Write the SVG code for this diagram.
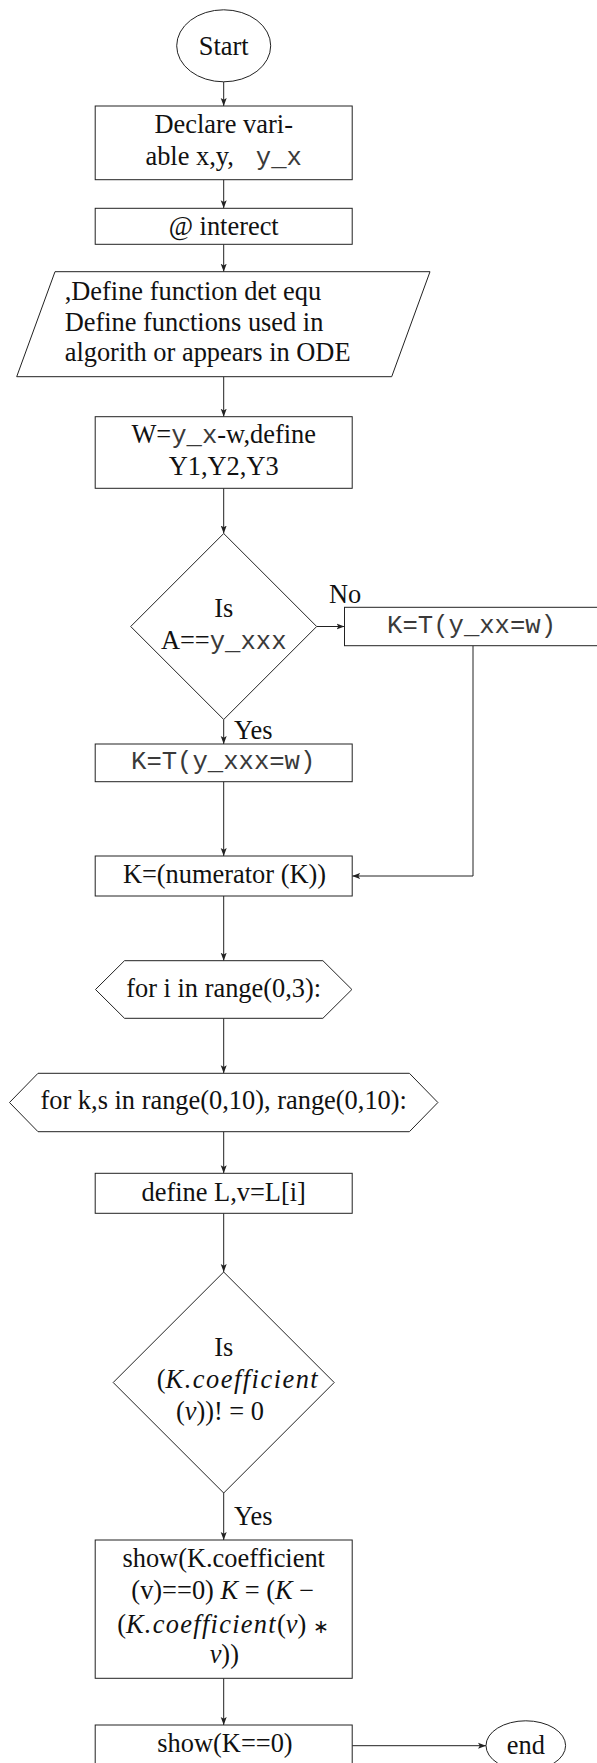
<svg xmlns="http://www.w3.org/2000/svg" width="597" height="1763" viewBox="0 0 597 1763">
<defs>
<marker id="arr" markerUnits="userSpaceOnUse" markerWidth="9" markerHeight="7" refX="8" refY="3.5" orient="auto">
<path d="M0,0.5 L8,3.5 L0,6.5 L1.8,3.5 z" fill="#222"/>
</marker>
<style>
.s{fill:#fff;stroke:#222;stroke-width:1}
.t{font-family:"Liberation Serif","Times New Roman",serif;font-size:26.4px;fill:#111}
.c{text-anchor:middle}
.m{font-family:"Liberation Mono","Courier New",monospace;font-size:25.6px;fill:#3a3a3a}
.i{font-style:italic}
.e{fill:none;stroke:#222;stroke-width:1;marker-end:url(#arr)}
</style>
</defs>
<rect width="597" height="1763" fill="#fff"/>
<g id="connectors">
<path class="e" d="M223.7,82 V106"/>
<path class="e" d="M223.7,179.7 V208.3"/>
<path class="e" d="M223.7,244.3 V271.7"/>
<path class="e" d="M223.7,376.7 V416.7"/>
<path class="e" d="M223.7,488.3 V533.5"/>
<path class="e" d="M316.7,626.5 H344.5"/>
<path class="e" d="M223.7,719.5 V744"/>
<path class="e" d="M223.7,781.7 V856"/>
<path class="e" d="M473,645.7 V876 H352.2"/>
<path class="e" d="M223.7,896 V960.7"/>
<path class="e" d="M223.7,1018.3 V1073.3"/>
<path class="e" d="M223.7,1131.7 V1173.3"/>
<path class="e" d="M223.7,1213.3 V1272"/>
<path class="e" d="M223.7,1493 V1540"/>
<path class="e" d="M223.7,1678.3 V1725"/>
<path class="e" d="M352.2,1745.7 H486"/>
<text class="t" x="329" y="603">No</text>
<text class="t" x="234" y="739.3">Yes</text>
<text class="t" x="234" y="1525">Yes</text>
</g>
<g id="start">
<ellipse class="s" cx="223.7" cy="45.8" rx="47" ry="36"/>
<text class="t c" x="223.7" y="55">Start</text>
</g>
<g id="declare">
<rect class="s" x="95.2" y="106" width="257" height="73.7"/>
<text class="t c" x="223.7" y="132.7">Declare vari-</text>
<text class="t c" x="223.7" y="165">able x,y,&#160;<tspan class="m">&#160;y_x</tspan></text>
</g>
<g id="interect">
<rect class="s" x="95.2" y="208.3" width="257" height="36"/>
<text class="t c" x="223.7" y="235">@ interect</text>
</g>
<g id="define-functions">
<polygon class="s" points="55,271.7 430,271.7 391.7,376.7 16.7,376.7"/>
<text class="t" x="64.7" y="299.5">,Define function det equ</text>
<text class="t" x="64.7" y="330.8">Define functions used in</text>
<text class="t" x="64.7" y="361.3">algorith or appears in ODE</text>
</g>
<g id="w-define">
<rect class="s" x="95.2" y="416.7" width="257" height="71.6"/>
<text class="t c" x="223.7" y="443.3">W=<tspan class="m">y_x</tspan>-w,define</text>
<text class="t c" x="223.7" y="475">Y1,Y2,Y3</text>
</g>
<g id="decision-a">
<polygon class="s" points="223.7,533.5 316.7,626.5 223.7,719.5 130.7,626.5"/>
<text class="t c" x="223.7" y="616.7">Is</text>
<text class="t c" x="223.7" y="649.3">A==<tspan class="m">y_xxx</tspan></text>
</g>
<g id="no-branch">
<rect class="s" x="344.5" y="607.3" width="257" height="38.4"/>
<text class="m c" x="471.6" y="633.3">K=T(y_xx=w)</text>
</g>
<g id="yes-branch">
<rect class="s" x="95.2" y="744" width="257" height="37.7"/>
<text class="m c" x="223.2" y="769.3">K=T(y_xxx=w)</text>
</g>
<g id="numerator">
<rect class="s" x="95.2" y="856" width="257" height="40"/>
<text class="t c" x="224.5" y="883.3">K=(numerator (K))</text>
</g>
<g id="loop-i">
<polygon class="s" points="95.5,989.5 124.5,960.7 322.9,960.7 351.9,989.5 322.9,1018.3 124.5,1018.3"/>
<text class="t c" x="223.7" y="996.7">for i in range(0,3):</text>
</g>
<g id="loop-ks">
<polygon class="s" points="9.5,1102.5 38,1073.3 409.4,1073.3 437.9,1102.5 409.4,1131.7 38,1131.7"/>
<text class="t c" x="223.7" y="1109.3">for k,s in range(0,10), range(0,10):</text>
</g>
<g id="define-l">
<rect class="s" x="95.2" y="1173.3" width="257" height="40"/>
<text class="t c" x="223.7" y="1200.6">define L,v=L[i]</text>
</g>
<g id="decision-coef">
<polygon class="s" points="223.7,1272 334.2,1382.5 223.7,1493 113.2,1382.5"/>
<text class="t c" x="223.7" y="1356">Is</text>
<text class="t" x="156.8" y="1388.3">(<tspan class="i" letter-spacing="1.5">K.coefficient</tspan></text>
<text class="t" x="175.9" y="1420">(<tspan class="i">v</tspan>))! = 0</text>
</g>
<g id="show-coef">
<rect class="s" x="95.2" y="1540" width="257" height="138.3"/>
<text class="t c" x="223.7" y="1566.7">show(K.coefficient</text>
<text class="t c" x="222.7" y="1599">(v)==0) <tspan class="i">K</tspan> = (<tspan class="i">K</tspan> −</text>
<text class="t c" x="223" y="1633.3">(<tspan class="i" letter-spacing="1.3">K.coefficient</tspan>(<tspan class="i">v</tspan>) <tspan font-size="19">∗</tspan></text>
<text class="t c" x="224.3" y="1663.3"><tspan class="i">v</tspan>))</text>
</g>
<g id="show-k">
<rect class="s" x="95.2" y="1725" width="257" height="40"/>
<text class="t c" x="225" y="1751.7">show(K==0)</text>
</g>
<g id="end">
<ellipse class="s" cx="525.8" cy="1745.6" rx="39.8" ry="24.8"/>
<text class="t c" x="525.8" y="1753.5">end</text>
</g>
</svg>
